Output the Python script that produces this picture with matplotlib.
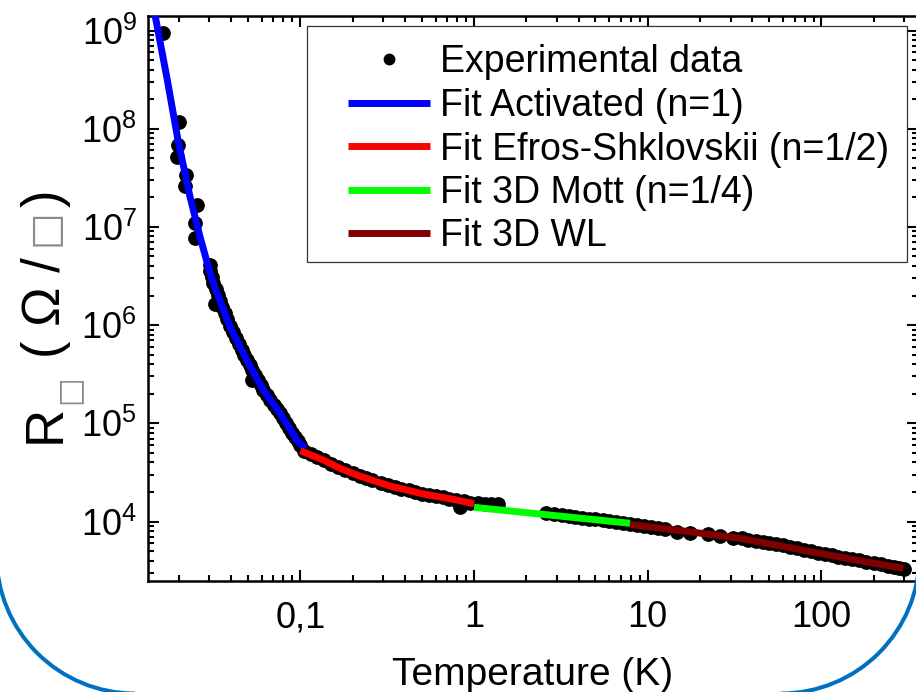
import numpy as np
import matplotlib
matplotlib.use("Agg")
import matplotlib.pyplot as plt
from matplotlib.lines import Line2D
from matplotlib.patches import Arc, Rectangle
from matplotlib.ticker import FixedLocator, FixedFormatter, LogLocator, NullFormatter

plt.rcParams["font.family"] = ["Liberation Sans", "DejaVu Sans"]
plt.rcParams["mathtext.fontset"] = "custom"
plt.rcParams["mathtext.rm"] = "Liberation Sans"
plt.rcParams["mathtext.it"] = "Liberation Sans:italic"
plt.rcParams["mathtext.bf"] = "Liberation Sans:bold"
plt.rcParams["mathtext.default"] = "regular"

# ---------------- measured sheet resistance ----------------
temp_exp = [
    0.01614, 0.02011, 0.01984, 0.01958, 0.02198, 0.02169, 0.02533, 0.02476, 0.02476, 0.03021,
    0.03005, 0.03082, 0.03156, 0.03249, 0.0335, 0.03454, 0.0356, 0.03671, 0.03784, 0.03922,
    0.04076, 0.04242, 0.04414, 0.04593, 0.04748, 0.04914, 0.0510, 0.05286, 0.05486, 0.05693,
    0.05901, 0.06124, 0.06423, 0.06728, 0.07057, 0.07334, 0.07641, 0.0794, 0.08284, 0.08633,
    0.08995, 0.09296, 0.09636, 0.1, 0.03228, 0.0525,
    0.105, 0.115, 0.125, 0.137, 0.15, 0.165, 0.18, 0.2, 0.22, 0.24,
    0.26, 0.29, 0.32, 0.35, 0.38, 0.42, 0.46, 0.5, 0.55, 0.6,
    0.66, 0.72, 0.79, 0.87, 0.95, 0.83,
    1.05, 1.15, 1.25, 1.37, 2.6, 2.9, 3.2, 3.5, 3.8, 4.2,
    4.6, 5.0, 5.5, 6.0, 6.6, 7.2, 7.9, 8.7, 9.5,
    10.5, 11.5, 12.5, 14.7, 17.5, 22.2, 26.1, 31, 35, 38,
    42, 46, 50, 55, 60, 66, 72, 79, 87, 95,
    105, 115, 125, 137, 150, 165, 180, 200, 220, 240,
    260, 280, 300,
]
rsq_exp = [
    9.50e8, 1.179e8, 6.82e7, 5.19e7, 3.38e7, 2.61e7, 1.671e7, 1.088e7, 7.76e6, 4.09e6,
    3.555e6, 3.089e6, 2.666e6, 2.331e6, 2.025e6, 1.760e6, 1.529e6, 1.328e6, 1.154e6, 9.79e5,
    8.50e5, 7.39e5, 6.42e5, 5.58e5, 4.96e5, 4.41e5, 3.924e5, 3.49e5, 3.104e5, 2.760e5,
    2.455e5, 2.183e5, 1.942e5, 1.727e5, 1.536e5, 1.398e5, 1.264e5, 1.132e5, 1.007e5, 8.96e4,
    7.96e4, 7.25e4, 6.60e4, 6.01e4, 1.640e6, 2.76e5,
    5.25e4, 4.87e4, 4.54e4, 4.20e4, 3.89e4, 3.58e4, 3.35e4, 3.10e4, 2.91e4, 2.76e4,
    2.63e4, 2.47e4, 2.34e4, 2.24e4, 2.16e4, 2.07e4, 1.99e4, 1.92e4, 1.86e4, 1.81e4,
    1.76e4, 1.71e4, 1.66e4, 1.60e4, 1.55e4, 1.39e4,
    1.53e4, 1.52e4, 1.52e4, 1.50e4, 1.224e4, 1.192e4, 1.165e4, 1.140e4, 1.119e4, 1.093e4,
    1.070e4, 1.050e4, 1.026e4, 1.007e4, 9.84e3, 9.63e3, 9.43e3, 9.21e3, 9.02e3,
    8.87e3, 8.61e3, 8.39e3, 7.89e3, 7.71e3, 7.42e3, 7.12e3, 6.79e3, 6.73e3, 6.54e3,
    6.34e3, 6.23e3, 6.11e3, 5.94e3, 5.75e3, 5.54e3, 5.36e3, 5.17e3, 4.99e3, 4.83e3,
    4.63e3, 4.51e3, 4.38e3, 4.26e3, 4.14e3, 4.02e3, 3.90e3, 3.78e3, 3.67e3, 3.56e3,
    3.47e3, 3.39e3, 3.32e3,
]

# ---------------- fitted curves ----------------
temp_act = [0.01382, 0.01457, 0.01702, 0.01984, 0.02317, 0.02646, 0.02954, 0.03156, 0.0356,
            0.03938, 0.04414, 0.04914, 0.05486, 0.06124, 0.06728, 0.07641, 0.08633, 0.09535, 0.1064]
rsq_act = [2.35e9, 1.44e9, 3.38e8, 7.38e7, 2.03e7, 7.94e6, 3.93e6, 2.666e6, 1.529e6,
           9.63e5, 6.42e5, 4.41e5, 3.104e5, 2.183e5, 1.727e5, 1.264e5, 8.96e4, 6.76e4, 5.54e4]

temp_es = [0.1, 0.1356, 0.1693, 0.2112, 0.26, 0.3284, 0.42, 0.5107, 0.7951, 1.0]
rsq_es = [5.26e4, 4.23e4, 3.48e4, 2.975e4, 2.63e4, 2.299e4, 2.07e4, 1.905e4, 1.656e4, 1.514e4]

temp_mott = [1.0, 2.81, 7.91]
rsq_mott = [1.395e4, 1.157e4, 9.59e3]

temp_wl = [7.91, 16.4, 34.0, 102.6, 173.6, 296.1]
rsq_wl = [9.32e3, 7.97e3, 6.74e3, 4.67e3, 3.93e3, 3.34e3]

xtick_values = [0.1, 1, 10, 100]
xtick_labels = ["0,1", "1", "10", "100"]
ytick_values = [1e4, 1e5, 1e6, 1e7, 1e8, 1e9]
ytick_labels = [r"$10^{4}$", r"$10^{5}$", r"$10^{6}$", r"$10^{7}$", r"$10^{8}$", r"$10^{9}$"]

legend_labels = [
    "Experimental data",
    "Fit Activated (n=1)",
    "Fit Efros-Shklovskii (n=1/2)",
    "Fit 3D Mott (n=1/4)",
    "Fit 3D WL",
]
fit_colors = ["#0000ff", "#ff0000", "#00ff00", "#800000"]

# ---------------- figure ----------------
W, H = 916, 692
fig = plt.figure(figsize=(W / 100, H / 100), dpi=100)
fig.patch.set_facecolor("white")


def fx(px):
    return px / W


def fy(py):
    return 1 - py / H


ax = fig.add_axes([fx(148), fy(581), fx(917.5) - fx(148), fy(15.7) - fy(581)])
ax.set_xscale("log")
ax.set_yscale("log")
ax.set_xlim(0.01328, 357)
ax.set_ylim(2478, 1.415e9)

DOT = 9.6
LW = 5.0
ax.plot(temp_exp, rsq_exp, ls="none", marker="o", ms=DOT, color="black", zorder=2)
fit_sets = [(temp_act, rsq_act), (temp_es, rsq_es), (temp_mott, rsq_mott), (temp_wl, rsq_wl)]
for (tt, rr), col in zip(fit_sets, fit_colors):
    ax.plot(tt, rr, color=col, lw=LW, solid_capstyle="butt", zorder=3)

# ticks
ax.xaxis.set_major_locator(FixedLocator(xtick_values))
ax.xaxis.set_major_formatter(FixedFormatter(xtick_labels))
ax.yaxis.set_major_locator(FixedLocator(ytick_values))
ax.yaxis.set_major_formatter(FixedFormatter(ytick_labels))
for axis in (ax.xaxis, ax.yaxis):
    axis.set_minor_locator(LogLocator(base=10, subs=np.arange(2, 10) * 1.0, numticks=100))
    axis.set_minor_formatter(NullFormatter())
ax.tick_params(which="both", direction="in", top=True, right=True, width=1.5, colors="black")
ax.tick_params(which="major", length=8)
ax.tick_params(which="minor", length=4)
ax.tick_params(axis="x", which="major", labelsize=26, pad=14)
ax.tick_params(axis="y", which="major", labelsize=26, pad=8)
for sp in ax.spines.values():
    sp.set_linewidth(1.8)

ax.set_xlabel("Temperature (K)", fontsize=28)
ax.xaxis.set_label_coords(0.5, (581 - 657) / (581 - 15.7))

# y label built from pieces so the square symbols can be grey
lab_kw = dict(rotation=90, rotation_mode="anchor", fontsize=38, color="black")
fig.text(fx(60), fy(443), "R", ha="left", va="baseline", **lab_kw)
fig.text(fx(60), fy(358), "( \u03A9 /", ha="left", va="baseline", **lab_kw)
fig.text(fx(60), fy(207), ")", ha="left", va="baseline", **lab_kw)
sq_kw = dict(rotation=90, rotation_mode="anchor", ha="center", va="center", color="#8a8a8a",
             family=["DejaVu Sans"])
fig.text(fx(68.5), fy(389.5), "\u25A1", fontsize=22, **sq_kw)
fig.text(fx(44.5), fy(228), "\u25A1", fontsize=28, **sq_kw)

# legend with a plain rectangular frame
ax.add_patch(Rectangle((fx(307), fy(262)), fx(907) - fx(307), fy(26) - fy(262),
                       transform=fig.transFigure, facecolor="white", edgecolor="#333333",
                       lw=0.9, zorder=4, clip_on=False))
handles = [Line2D([], [], ls="none", marker="o", ms=7.5, color="black")]
handles += [Line2D([], [], color=c, lw=LW, solid_capstyle="butt") for c in fit_colors]
leg = ax.legend(handles, legend_labels, loc="upper left",
                bbox_to_anchor=(fx(348), fy(44.5)), bbox_transform=fig.transFigure,
                frameon=False, borderpad=0, borderaxespad=0, fontsize=27,
                handlelength=2.19, handletextpad=0.27, labelspacing=0.2)
leg.set_zorder(5)

# rounded corners of the slide frame around the figure
frame_kw = dict(transform=fig.dpi_scale_trans, edgecolor="#0070c0", lw=2.9, fill=False)
fig.add_artist(Arc((1.35, 1.37), 2.77, 2.77, theta1=180, theta2=270, **frame_kw))
fig.add_artist(Arc((7.81, 1.37), 2.77, 2.77, theta1=270, theta2=360, **frame_kw))

fig.savefig("out.png", dpi=100)
